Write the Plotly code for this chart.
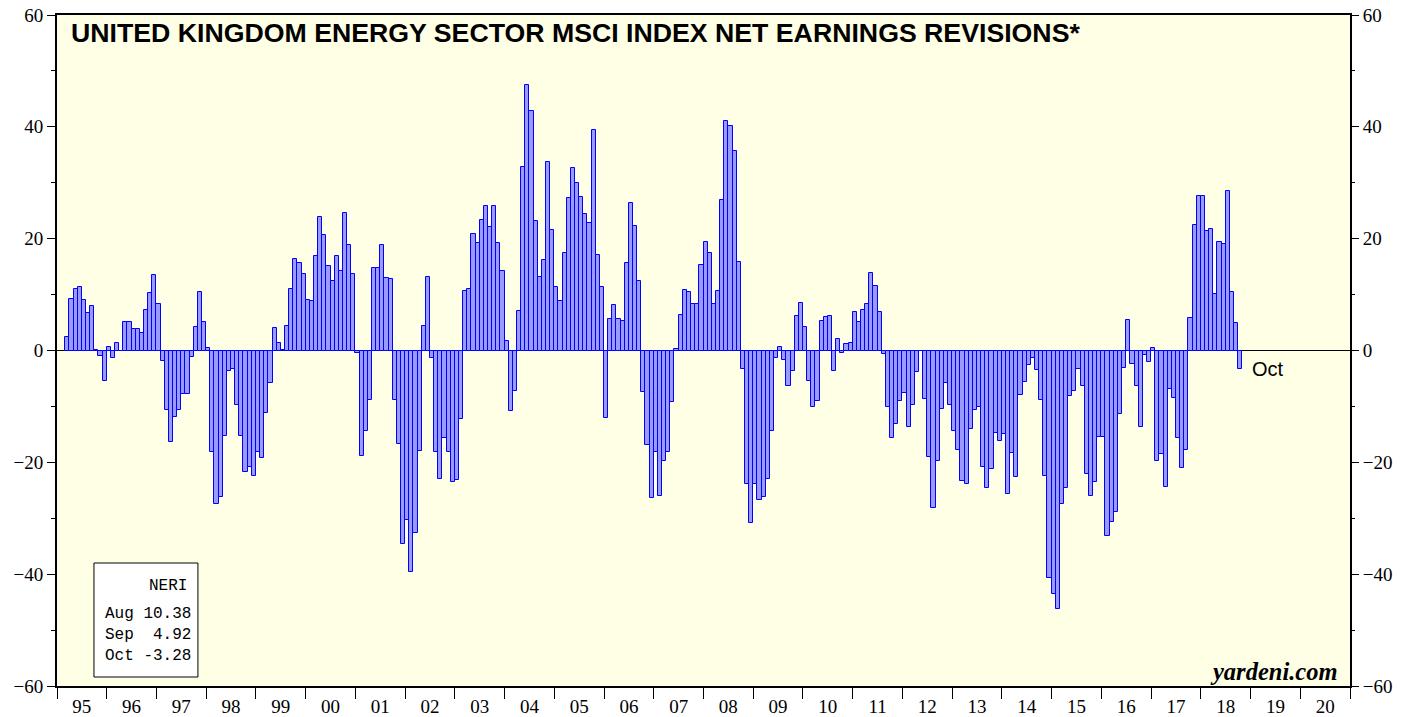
import plotly.graph_objects as go
import pandas as pd

# Monthly net earnings revisions index (NERI), Mar 1995 .. Oct 2018
start_month = "1995-03-01"
neri = [
    # 1995 (Mar-Dec)
    2.4, 9.2, 11.0, 11.3, 9.1, 6.7, 8.0, 0.1, -1.0, -5.5,
    # 1996
    0.7, -1.3, 1.4, -0.1, 5.1, 5.1, 3.8, 3.8, 3.2, 7.3, 10.3, 13.5,
    # 1997
    8.3, -1.8, -10.6, -16.4, -11.9, -10.6, -7.8, -7.8, -1.2, 4.2, 10.5, 5.1,
    # 1998
    0.5, -18.2, -27.4, -26.2, -15.3, -3.6, -3.3, -9.7, -15.3, -21.8, -20.9, -22.5,
    # 1999
    -18.1, -19.2, -11.2, -5.8, 4.0, 1.3, 0.1, 4.4, 11.0, 16.3, 15.6, 13.7,
    # 2000
    9.0, 8.8, 16.9, 23.9, 20.6, 15.1, 12.5, 16.9, 14.2, 24.6, 18.8, 13.7,
    # 2001
    -0.5, -18.9, -14.4, -8.8, 14.7, 14.7, 18.8, 12.9, 12.7, -8.9, -16.8, -34.6,
    # 2002
    -30.3, -39.7, -32.7, -18.0, 4.4, 13.1, -1.4, -18.2, -23.0, -15.6, -18.1, -23.6,
    # 2003
    -23.1, -12.3, 10.6, 11.0, 20.9, 19.3, 23.3, 25.8, 22.1, 25.9, 19.2, 14.3,
    # 2004
    1.7, -10.9, -7.2, 7.1, 32.9, 47.5, 42.8, 23.1, 13.1, 16.2, 33.8, 21.6,
    # 2005
    11.3, 8.8, 17.4, 27.3, 32.6, 29.9, 27.4, 24.4, 22.8, 39.5, 17.1, 11.3,
    # 2006
    -12.1, 5.7, 8.1, 5.7, 5.3, 15.7, 26.3, 22.2, 12.5, -7.4, -16.9, -26.4,
    # 2007
    -18.2, -26.1, -19.8, -18.2, -9.2, 0.2, 6.4, 10.9, 10.4, 8.3, 8.3, 15.3,
    # 2008
    19.4, 17.5, 8.3, 10.6, 27.0, 41.0, 40.1, 35.7, 15.9, -3.3, -23.9, -30.8,
    # 2009
    -23.9, -26.8, -26.2, -22.9, -14.4, -1.3, 0.6, -1.7, -6.4, -3.7, 6.1, 8.5,
    # 2010
    4.2, -5.4, -10.1, -9.1, 5.3, 6.0, 6.2, -3.6, 2.0, -0.5, 1.1, 1.3,
    # 2011
    6.9, 5.1, 7.2, 8.3, 13.8, 11.6, 6.9, -0.7, -10.1, -15.6, -13.1, -9.0,
    # 2012
    -7.6, -13.7, -9.8, -3.8, -0.1, -8.6, -19.0, -28.1, -19.7, -10.4, -5.8, -9.7,
    # 2013
    -14.4, -17.8, -23.3, -23.9, -14.0, -10.6, -10.1, -20.9, -24.6, -21.2, -14.8, -16.2,
    # 2014
    -15.0, -25.6, -18.4, -22.7, -7.9, -5.7, -2.6, -1.4, -3.5, -8.8, -22.4, -40.7,
    # 2015
    -43.5, -46.3, -27.4, -24.6, -8.1, -7.2, -3.3, -6.3, -22.1, -26.1, -23.5, -15.5,
    # 2016
    -15.5, -33.2, -30.6, -28.8, -11.3, -3.1, 5.5, -2.4, -6.4, -13.7, -0.8, -2.1,
    # 2017
    0.5, -19.8, -18.5, -24.4, -6.9, -8.5, -15.6, -21.0, -17.8, 5.8, 22.5, 27.7,
    # 2018 (Jan-Oct)
    27.7, 21.3, 21.8, 10.1, 19.4, 19.1, 28.5, 10.38, 4.92, -3.28,
]

years = list(range(1995, 2022))
year_labels = [f"{y % 100:02d}" for y in years[:-1]]
y_ticks = list(range(-60, 61, 20))

legend_title = "NERI"
legend_lines = ["Aug 10.38", "Sep\u00a0 4.92", "Oct -3.28"]
title_text = "UNITED KINGDOM ENERGY SECTOR MSCI INDEX NET EARNINGS REVISIONS*"

dates = pd.date_range(start_month, periods=len(neri), freq="MS")
xpos = [d.year + (d.month - 0.5) / 12 for d in dates]

fig = go.Figure()
fig.add_trace(go.Bar(
    x=xpos, y=neri, width=1 / 12,
    marker=dict(color="#9a9aff", line=dict(color="#0000ff", width=1)),
    showlegend=False, hoverinfo="x+y",
))
# invisible traces to activate the secondary axes
fig.add_trace(go.Scatter(x=[years[0]], y=[0], xaxis="x2", yaxis="y", mode="markers",
                         marker=dict(opacity=0), showlegend=False, hoverinfo="skip"))
fig.add_trace(go.Scatter(x=[years[0]], y=[0], xaxis="x", yaxis="y2", mode="markers",
                         marker=dict(opacity=0), showlegend=False, hoverinfo="skip"))

serif = "Liberation Serif, Times New Roman, serif"
yax_common = dict(
    range=[-60, 60], tickvals=y_ticks, ticks="outside", ticklen=8, tickwidth=1,
    tickcolor="black", tickfont=dict(family=serif, size=19, color="black"),
    showgrid=False, fixedrange=True, automargin=False,
    minor=dict(tickmode="linear", tick0=-60, dtick=10, ticks="outside",
               ticklen=4, tickcolor="black", tickwidth=1),
)

fig.update_layout(
    width=1419, height=717,
    margin=dict(l=57, r=69, t=15, b=31),
    paper_bgcolor="white", plot_bgcolor="#ffffe6",
    bargap=0,
    xaxis=dict(
        range=[years[0], years[-1]], tickvals=years, ticktext=[""] * len(years),
        ticks="outside", ticklen=11, tickwidth=1, tickcolor="black",
        showline=True, linewidth=2, linecolor="black", mirror=True,
        showgrid=False, zeroline=False, automargin=False, fixedrange=True,
    ),
    xaxis2=dict(
        overlaying="x", anchor="y", side="bottom",
        range=[years[0], years[-1]], tickvals=[y + 0.5 for y in years[:-1]],
        ticktext=year_labels, ticks="outside", ticklen=3, tickcolor="rgba(0,0,0,0)",
        tickfont=dict(family=serif, size=19, color="black"),
        showline=False, showgrid=False, zeroline=False, automargin=False, fixedrange=True,
    ),
    yaxis=dict(
        **yax_common,
        showline=True, linewidth=2, linecolor="black", mirror=True,
        zeroline=True, zerolinecolor="black", zerolinewidth=1,
    ),
    yaxis2=dict(
        **yax_common, overlaying="y", anchor="x", side="right",
        showline=False, zeroline=False,
    ),
    shapes=[dict(type="rect", xref="paper", yref="paper",
                 x0=0.0286, x1=0.109, y0=0.0134, y1=0.1833,
                 line=dict(color="black", width=1), fillcolor="white", layer="above")],
    annotations=[
        dict(text=f"<b>{title_text}</b>", xref="paper", yref="paper",
             x=0.009, y=0.973, xanchor="left", yanchor="middle", showarrow=False,
             font=dict(family="Liberation Sans, Arial, sans-serif", size=26.7, color="black")),
        dict(text="<b><i>yardeni.com</i></b>", xref="paper", yref="paper",
             x=0.9925, y=0.022, xanchor="right", yanchor="middle", showarrow=False,
             font=dict(family=serif, size=24.5, color="black")),
        dict(text="Oct", x=xpos[-1] + 0.2, y=neri[-1], xref="x", yref="y",
             xanchor="left", yanchor="middle", showarrow=False,
             font=dict(family="Liberation Sans, Arial, sans-serif", size=20, color="black")),
        dict(text=legend_title, xref="paper", yref="paper", x=0.1021, y=0.149,
             xanchor="right", yanchor="middle", showarrow=False,
             font=dict(family="Liberation Mono, Courier New, monospace", size=16, color="black")),
        dict(text="<br>".join(legend_lines), xref="paper", yref="paper", x=0.0356, y=0.076,
             xanchor="left", yanchor="middle", align="left", showarrow=False,
             font=dict(family="Liberation Mono, Courier New, monospace", size=16, color="black")),
    ],
)

fig.write_html("out.html", config={"displayModeBar": False},
               post_script="document.body.style.margin='0';document.body.style.overflow='hidden';")
